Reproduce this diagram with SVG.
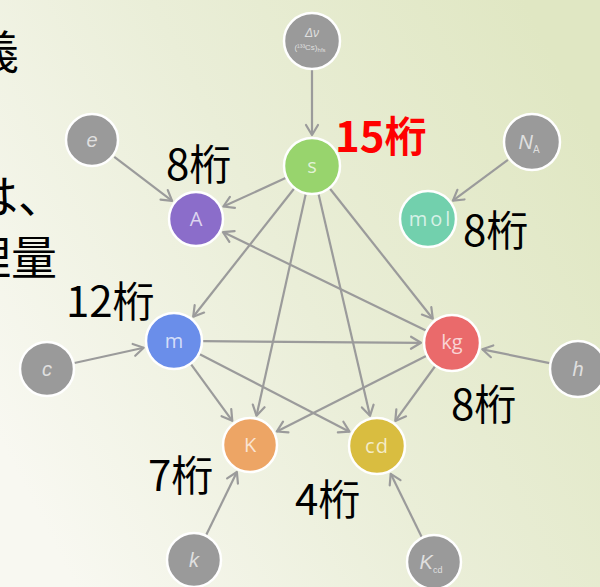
<svg xmlns="http://www.w3.org/2000/svg" width="600" height="587" viewBox="0 0 600 587">
<defs>
<linearGradient id="bg" x1="0" y1="0.75" x2="1" y2="0.25">
<stop offset="0" stop-color="#f8f8f1"/>
<stop offset="0.5" stop-color="#eaeed8"/>
<stop offset="1" stop-color="#e0e7c3"/>
</linearGradient>
<marker id="arr" markerUnits="userSpaceOnUse" markerWidth="16" markerHeight="16" viewBox="0 0 16 16" refX="13" refY="8" orient="auto">
<path d="M3,2 L13,8 L3,14" fill="none" stroke="#9b9b9b" stroke-width="2.2" stroke-linecap="round" stroke-linejoin="round"/>
</marker>
<style>
.edge{stroke:#9b9b9b;stroke-width:2.2;fill:none;marker-end:url(#arr)}
.node{stroke:#ffffff;stroke-width:2.5}
.gray{fill:#9a9a9a}
.lbl{fill:#ffffff;fill-opacity:0.72;font-family:"Open Sans","DejaVu Sans",sans-serif;font-size:20px;text-anchor:middle}
.glbl{fill:#ffffff;fill-opacity:0.7;font-family:"Liberation Sans",sans-serif;font-style:italic;font-size:20px;text-anchor:middle}
.num{font-family:"Noto Sans CJK JP","Noto Sans CJK SC",sans-serif;font-size:42px;fill:#000000}
.side{font-family:"Noto Sans CJK JP","Noto Sans CJK SC",sans-serif;font-size:46px;fill:#000000}
</style>
</defs>
<rect x="0" y="0" width="600" height="587" fill="url(#bg)"/>

<g id="side-text">
<text class="side" x="19" y="69" text-anchor="end">義</text>
<text class="side" x="-28" y="213">は、</text>
<text class="side" x="57" y="274" text-anchor="end">理量</text>
</g>

<g id="connectors">
<line class="edge" x1="312" y1="70" x2="312" y2="135"/>
<line class="edge" x1="114.3" y1="156.9" x2="172.1" y2="200.9"/>
<line class="edge" x1="507.9" y1="159.9" x2="452.9" y2="200.6"/>
<line class="edge" x1="285.6" y1="178.1" x2="223.3" y2="206.5"/>
<line class="edge" x1="294" y1="188.8" x2="193.2" y2="316.7"/>
<line class="edge" x1="305.7" y1="194.3" x2="256.5" y2="415.7"/>
<line class="edge" x1="318.6" y1="194.2" x2="370" y2="415.8"/>
<line class="edge" x1="330" y1="188.7" x2="432.8" y2="318.7"/>
<line class="edge" x1="425.9" y1="330.4" x2="223" y2="232.1"/>
<line class="edge" x1="203" y1="341.2" x2="421" y2="342.8"/>
<line class="edge" x1="191.1" y1="364.4" x2="232.3" y2="420.8"/>
<line class="edge" x1="199.8" y1="354.3" x2="349.5" y2="431.7"/>
<line class="edge" x1="426.1" y1="356.1" x2="276.8" y2="431.5"/>
<line class="edge" x1="434.9" y1="366.5" x2="395.3" y2="420.9"/>
<line class="edge" x1="74.4" y1="363" x2="143.7" y2="347.7"/>
<line class="edge" x1="549.6" y1="363.1" x2="482.3" y2="349.3"/>
<line class="edge" x1="206.3" y1="534.8" x2="236.9" y2="472"/>
<line class="edge" x1="421.7" y1="536.9" x2="390.7" y2="473.8"/>
</g>

<g id="node-cs">
<circle class="node gray" cx="312" cy="41" r="28"/>
<text x="312" y="37" fill="#ffffff" fill-opacity="0.7" font-family="Liberation Sans,sans-serif" font-style="italic" font-size="12" text-anchor="middle">Δν</text>
<text x="310" y="50" fill="#ffffff" fill-opacity="0.7" font-family="Liberation Sans,sans-serif" font-size="8" text-anchor="middle">(¹³³Cs)<tspan font-size="6" dy="2">hfs</tspan></text>
</g>
<g id="node-s">
<circle class="node" cx="312" cy="166" r="28" fill="#98d46d"/>
<text class="lbl" x="312" y="173">s</text>
</g>
<g id="node-e">
<circle class="node gray" cx="92" cy="140" r="26"/>
<text class="glbl" x="92" y="147">e</text>
</g>
<g id="node-A">
<circle class="node" cx="196" cy="219" r="27" fill="#8b6dca"/>
<text class="lbl" x="196" y="226">A</text>
</g>
<g id="node-NA">
<circle class="node gray" cx="532" cy="142" r="28"/>
<text class="glbl" x="529" y="149">N<tspan font-size="10" dy="4" font-style="normal">A</tspan></text>
</g>
<g id="node-mol">
<circle class="node" cx="428" cy="219" r="28" fill="#72d0ad"/>
<text class="lbl" x="431" y="226" letter-spacing="3">mol</text>
</g>
<g id="node-m">
<circle class="node" cx="174" cy="341" r="28" fill="#6a8eea"/>
<text class="lbl" x="174" y="348">m</text>
</g>
<g id="node-kg">
<circle class="node" cx="452" cy="343" r="28" fill="#ea6a6b"/>
<text class="lbl" x="452" y="349">kg</text>
</g>
<g id="node-c">
<circle class="node gray" cx="47" cy="369" r="27"/>
<text class="glbl" x="47" y="376">c</text>
</g>
<g id="node-h">
<circle class="node gray" cx="578" cy="369" r="28"/>
<text class="glbl" x="578" y="376">h</text>
</g>
<g id="node-K">
<circle class="node" cx="250" cy="445" r="27" fill="#eda565"/>
<text class="lbl" x="250" y="452">K</text>
</g>
<g id="node-cd">
<circle class="node" cx="377" cy="446" r="28" fill="#d9bd40"/>
<text class="lbl" x="377" y="453" letter-spacing="1">cd</text>
</g>
<g id="node-k">
<circle class="node gray" cx="194" cy="560" r="27"/>
<text class="glbl" x="194" y="567">k</text>
</g>
<g id="node-Kcd">
<circle class="node gray" cx="434" cy="562" r="27"/>
<text class="glbl" x="431" y="569">K<tspan font-size="9" dy="4" font-style="normal">cd</tspan></text>
</g>

<g id="labels">
<text class="num" x="335" y="152" style="fill:#ff0000;font-weight:bold">15桁</text>
<text class="num" x="166" y="180">8桁</text>
<text class="num" x="463" y="246">8桁</text>
<text class="num" x="66" y="317">12桁</text>
<text class="num" x="451" y="420">8桁</text>
<text class="num" x="148" y="491">7桁</text>
<text class="num" x="295" y="515">4桁</text>
</g>
</svg>
